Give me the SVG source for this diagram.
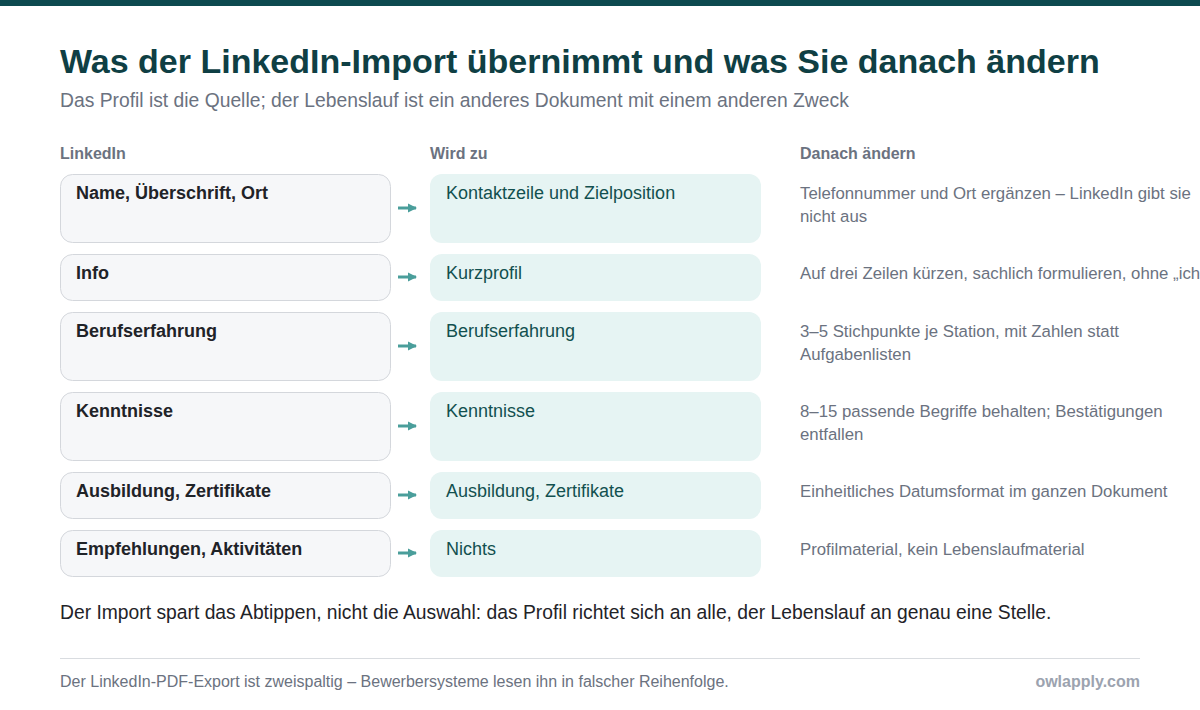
<svg xmlns="http://www.w3.org/2000/svg" width="1200" height="710" viewBox="0 0 1200 710">
<defs>
<marker id="ah" markerWidth="10" markerHeight="10" refX="8" refY="5" orient="auto" markerUnits="userSpaceOnUse">
<path d="M0,0.5 L9,5 L0,9.5 Z" fill="#4a9e9b"/>
</marker>
<style>
text{font-family:"Liberation Sans",Arial,Helvetica,sans-serif}
.title{font-size:34px;font-weight:bold;fill:#0f3f44}
.sub{font-size:19.3px;fill:#6b7280}
.hdr{font-size:16px;font-weight:bold;fill:#6b7280}
.src{fill:#f6f7f9;stroke:#d4d7dc;stroke-width:1}
.dst{fill:#e6f4f3}
.srct{font-size:18px;font-weight:bold;fill:#1f2328}
.dstt{font-size:18px;fill:#12504f}
.note{font-size:16.8px;fill:#6b7280}
.conn{stroke:#4a9e9b;stroke-width:3;fill:none}
.bottom{font-size:19.3px;fill:#1f2328}
.foot{font-size:16px;fill:#6b7280}
.brand{font-size:16px;font-weight:bold;fill:#9ca3af}
</style>
</defs>
<rect x="0" y="0" width="1200" height="710" fill="#ffffff"/>
<rect x="0" y="0" width="1200" height="6" fill="#0d4a4f"/>
<text class="title" x="60" y="73">Was der LinkedIn-Import übernimmt und was Sie danach ändern</text>
<text class="sub" x="60" y="107">Das Profil ist die Quelle; der Lebenslauf ist ein anderes Dokument mit einem anderen Zweck</text>
<text class="hdr" x="60" y="159">LinkedIn</text>
<text class="hdr" x="430" y="159">Wird zu</text>
<text class="hdr" x="800" y="159">Danach ändern</text>

<g id="row1">
<rect class="src" x="60.5" y="174.5" width="330" height="68" rx="12"/>
<text class="srct" x="76" y="199">Name, Überschrift, Ort</text>
<rect class="dst" x="430" y="174" width="331" height="69" rx="12"/>
<text class="dstt" x="446" y="199">Kontaktzeile und Zielposition</text>
<text class="note" x="800" y="199">Telefonnummer und Ort ergänzen – LinkedIn gibt sie</text>
<text class="note" x="800" y="222">nicht aus</text>
</g>
<g id="row2">
<rect class="src" x="60.5" y="254.5" width="330" height="46" rx="12"/>
<text class="srct" x="76" y="279">Info</text>
<rect class="dst" x="430" y="254" width="331" height="47" rx="12"/>
<text class="dstt" x="446" y="279">Kurzprofil</text>
<text class="note" x="800" y="279">Auf drei Zeilen kürzen, sachlich formulieren, ohne „ich“</text>
</g>
<g id="row3">
<rect class="src" x="60.5" y="312.5" width="330" height="68" rx="12"/>
<text class="srct" x="76" y="337">Berufserfahrung</text>
<rect class="dst" x="430" y="312" width="331" height="69" rx="12"/>
<text class="dstt" x="446" y="337">Berufserfahrung</text>
<text class="note" x="800" y="337">3–5 Stichpunkte je Station, mit Zahlen statt</text>
<text class="note" x="800" y="360">Aufgabenlisten</text>
</g>
<g id="row4">
<rect class="src" x="60.5" y="392.5" width="330" height="68" rx="12"/>
<text class="srct" x="76" y="417">Kenntnisse</text>
<rect class="dst" x="430" y="392" width="331" height="69" rx="12"/>
<text class="dstt" x="446" y="417">Kenntnisse</text>
<text class="note" x="800" y="417">8–15 passende Begriffe behalten; Bestätigungen</text>
<text class="note" x="800" y="440">entfallen</text>
</g>
<g id="row5">
<rect class="src" x="60.5" y="472.5" width="330" height="46" rx="12"/>
<text class="srct" x="76" y="497">Ausbildung, Zertifikate</text>
<rect class="dst" x="430" y="472" width="331" height="47" rx="12"/>
<text class="dstt" x="446" y="497">Ausbildung, Zertifikate</text>
<text class="note" x="800" y="497">Einheitliches Datumsformat im ganzen Dokument</text>
</g>
<g id="row6">
<rect class="src" x="60.5" y="530.5" width="330" height="46" rx="12"/>
<text class="srct" x="76" y="555">Empfehlungen, Aktivitäten</text>
<rect class="dst" x="430" y="530" width="331" height="47" rx="12"/>
<text class="dstt" x="446" y="555">Nichts</text>
<text class="note" x="800" y="555">Profilmaterial, kein Lebenslaufmaterial</text>
</g>

<g id="connectors">
<line class="conn" x1="398" y1="208" x2="416" y2="208" marker-end="url(#ah)"/>
<line class="conn" x1="398" y1="277" x2="416" y2="277" marker-end="url(#ah)"/>
<line class="conn" x1="398" y1="346" x2="416" y2="346" marker-end="url(#ah)"/>
<line class="conn" x1="398" y1="426" x2="416" y2="426" marker-end="url(#ah)"/>
<line class="conn" x1="398" y1="495" x2="416" y2="495" marker-end="url(#ah)"/>
<line class="conn" x1="398" y1="553" x2="416" y2="553" marker-end="url(#ah)"/>
</g>

<text class="bottom" x="60" y="619">Der Import spart das Abtippen, nicht die Auswahl: das Profil richtet sich an alle, der Lebenslauf an genau eine Stelle.</text>
<line x1="60" y1="658.5" x2="1140" y2="658.5" stroke="#d9dce0" stroke-width="1"/>
<text class="foot" x="60" y="687">Der LinkedIn-PDF-Export ist zweispaltig – Bewerbersysteme lesen ihn in falscher Reihenfolge.</text>
<text class="brand" x="1140" y="687" text-anchor="end">owlapply.com</text>
</svg>
